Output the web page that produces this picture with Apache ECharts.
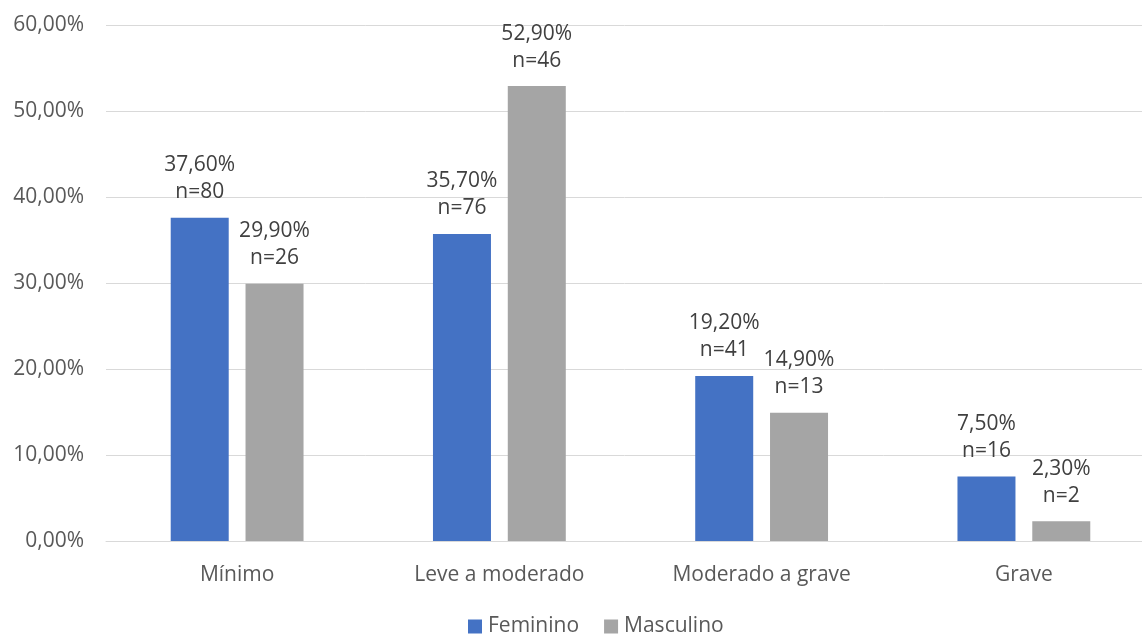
<!DOCTYPE html>
<html><head><meta charset="utf-8">
<script src="https://cdn.jsdelivr.net/npm/echarts@6/dist/echarts.min.js"></script>
<style>html,body{margin:0;padding:0;background:#fff}#c{width:1142px;height:635px}</style>
</head><body><div id="c"></div>
<script>
const categories = ["Mínimo", "Leve a moderado", "Moderado a grave", "Grave"];
const feminino = [37.6, 35.7, 19.2, 7.5];
const femininoN = [80, 76, 41, 16];
const masculino = [29.9, 52.9, 14.9, 2.3];
const masculinoN = [26, 46, 13, 2];
const seriesNames = ["Feminino", "Masculino"];

const FONT = "Open Sans";
const TXT = "#595959";
const FS = 21;
function fmtPct(v){ return v.toFixed(2).replace('.', ',') + '%'; }
function mkLabel(ns){
  return {
    show: true, position: 'top', distance: 12,
    fontFamily: FONT, fontSize: FS, color: '#404040', lineHeight: 27,
    formatter: p => fmtPct(p.value) + '\n' + 'n=' + ns[p.dataIndex]
  };
}
const chart = echarts.init(document.getElementById('c'));
chart.setOption({
  animation: false,
  textStyle: { fontFamily: FONT },
  grid: { left: 106, width: 1049, top: 25, bottom: 94, containLabel: false, outerBoundsMode: 'none' },
  legend: {
    top: 616, left: 468, itemWidth: 14, itemHeight: 14, itemGap: 25,
    icon: 'rect', padding: 0,
    textStyle: { fontFamily: FONT, fontSize: FS, color: TXT, padding: [0, 0, 0, 1] },
    data: seriesNames
  },
  xAxis: {
    type: 'category', data: categories,
    axisLine: { lineStyle: { color: '#D9D9D9', width: 1 } },
    axisTick: { show: false },
    axisLabel: { fontFamily: FONT, fontSize: FS, color: TXT, margin: 24 }
  },
  yAxis: {
    type: 'value', min: 0, max: 60, interval: 10,
    axisLine: { show: false }, axisTick: { show: false },
    splitLine: { lineStyle: { color: '#D9D9D9', width: 1 } },
    axisLabel: { fontFamily: FONT, fontSize: FS, color: TXT, margin: 22,
      formatter: v => v.toFixed(2).replace('.', ',') + '%' }
  },
  series: [
    { name: seriesNames[0], type: 'bar', data: feminino, barWidth: 58, barGap: '29%',
      itemStyle: { color: '#4472C4' }, label: mkLabel(femininoN) },
    { name: seriesNames[1], type: 'bar', data: masculino, barWidth: 58,
      itemStyle: { color: '#A5A5A5' }, label: mkLabel(masculinoN) }
  ]
});
</script></body></html>
